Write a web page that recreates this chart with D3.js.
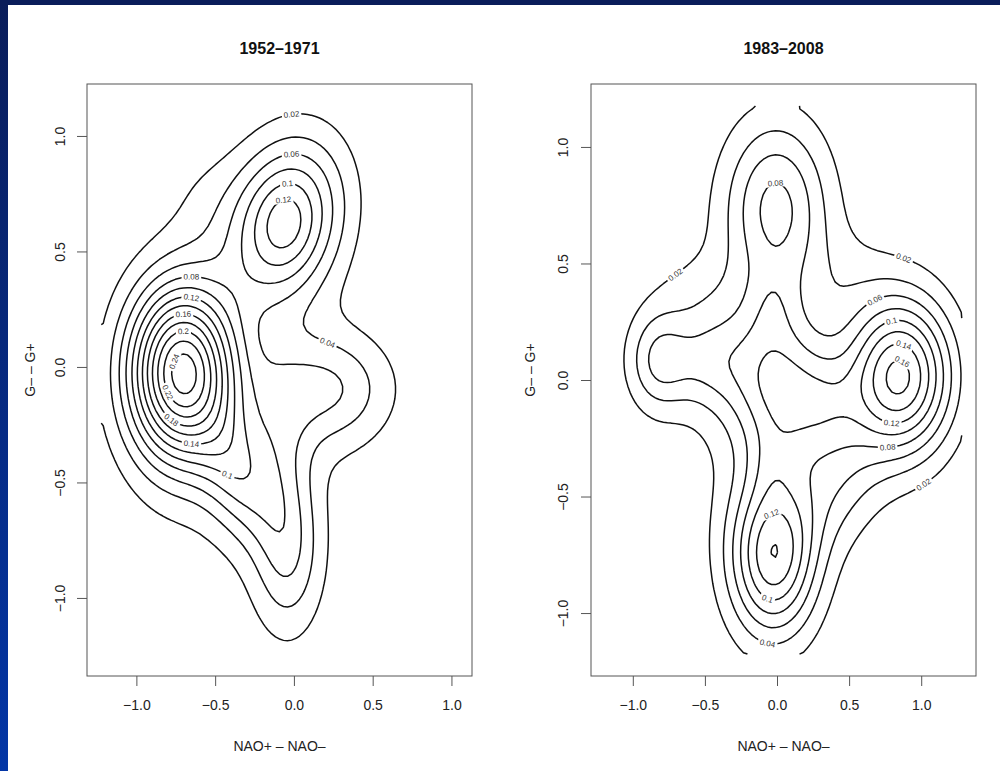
<!DOCTYPE html>
<html>
<head>
<meta charset="utf-8">
<script src="https://cdn.jsdelivr.net/npm/d3@7"></script>
<style>
  body { margin: 0; background: #fff; }
  text { font-family: "Liberation Sans", Arial, sans-serif; }
</style>
</head>
<body>
<svg id="chart" width="1000" height="771"></svg>
<script>
// ---- data ----
var titles = ["1952\u20131971", "1983\u20132008"];
var xTicks = [-1, -0.5, 0, 0.5, 1];
var yTicks = [-1, -0.5, 0, 0.5, 1];

// grid limits of each density estimate (x, y)
var leftGridX = [-1.223, 1.04], leftGridY = [-1.243, 1.13];
var rightGridX = [-1.191, 1.281], rightGridY = [-1.176, 1.176];

var leftLevels = [0.02, 0.04, 0.06, 0.08, 0.1, 0.12, 0.14, 0.16, 0.18, 0.2, 0.22, 0.24];
var rightLevels = [0.02, 0.04, 0.06, 0.08, 0.1, 0.12, 0.14, 0.16];

// density bumps: [cx, cy, sx, sy, rho, height]
var leftBumps = [
  [-0.72, -0.01, 0.235, 0.26, 0, 0.24],
  [-0.07, 0.64, 0.25, 0.245, 0.2, 0.12],
  [-0.07, 0.64, 0.1, 0.1, 0, 0.01],
  [-0.6, 0.75, 0.2, 0.18, 0, 0.012],
  [-0.36, -0.45, 0.17, 0.2, -0.3, 0.063],
  [-0.1, -0.35, 0.14, 0.25, 0, 0.03],
  [-0.05, -0.8, 0.15, 0.24, 0, 0.05],
  [0.2, -0.08, 0.28, 0.17, 0, 0.055],
  [-0.3, -0.3, 0.55, 0.6, 0, 0.015]
];
var rightBumps = [
  [0.84, 0.03, 0.25, 0.23, 0, 0.16],
  [0.02, -0.02, 0.3, 0.24, -0.25, 0.092],
  [0.35, -0.07, 0.15, 0.13, 0, 0.018],
  [-0.02, 0.76, 0.25, 0.26, 0, 0.08],
  [-0.04, 0.33, 0.12, 0.12, 0, 0.018],
  [-0.04, -0.74, 0.21, 0.24, 0, 0.13],
  [-0.06, -0.35, 0.12, 0.12, 0, 0.015],
  [0.4, -0.45, 0.22, 0.2, 0.3, 0.03],
  [-0.84, 0.1, 0.15, 0.15, 0, 0.055],
  [-0.52, 0.1, 0.18, 0.14, 0, 0.035],
  [-0.6, 0.4, 0.22, 0.12, 0, 0.012],
  [0.45, 0.45, 0.25, 0.15, 0, 0.012],
  [-0.05, 0.0, 0.6, 0.6, 0, 0.015]
];

// contour labels: [level, x, y]
var leftLabels = [
  [0.02, -0.02, 1.11], [0.06, -0.01, 0.94], [0.1, -0.03, 0.84], [0.12, -0.06, 0.75],
  [0.08, -0.66, 0.41], [0.12, -0.65, 0.31], [0.16, -0.69, 0.23], [0.2, -0.71, 0.17],
  [0.24, -0.74, 0.02], [0.22, -0.71, -0.085], [0.18, -0.73, -0.19], [0.14, -0.65, -0.27],
  [0.1, -0.40, -0.45], [0.04, 0.21, 0.11]
];
var rightLabels = [
  [0.02, -0.67, 0.44], [0.08, -0.03, 0.87], [0.02, 0.87, 0.49], [0.06, 0.66, 0.37],
  [0.1, 0.78, 0.26], [0.14, 0.86, 0.14], [0.16, 0.85, 0.06], [0.12, 0.81, -0.13],
  [0.08, 0.77, -0.24], [0.02, 0.97, -0.40], [0.12, -0.01, -0.60], [0.1, -0.07, -0.93],
  [0.04, -0.07, -1.11]
];

// ---- page ----
var svg = d3.select("#chart");

var grad = svg.append("defs").append("linearGradient")
  .attr("id", "frame").attr("x1", 0).attr("y1", 0).attr("x2", 0).attr("y2", 1);
grad.append("stop").attr("offset", "0%").attr("stop-color", "#0a1d5a");
grad.append("stop").attr("offset", "100%").attr("stop-color", "#0336a6");

svg.append("rect").attr("width", 1000).attr("height", 771).attr("fill", "#fff");
svg.append("rect").attr("x", 0).attr("y", 0).attr("width", 8).attr("height", 771).attr("fill", "url(#frame)");
svg.append("rect").attr("x", 0).attr("y", 0).attr("width", 1000).attr("height", 5).attr("fill", "#0a1d5a");

function density(bumps, x, y) {
  var s = 0;
  bumps.forEach(function(b) {
    var dx = (x - b[0]) / b[2], dy = (y - b[1]) / b[3], r = b[4];
    s += b[5] * Math.exp(-(dx * dx - 2 * r * dx * dy + dy * dy) / (2 * (1 - r * r)));
  });
  return s;
}

function panel(box, gx, gy, bumps, levels, labels, title, yTitleX, yLabelX) {
  var padX = (gx[1] - gx[0]) * 0.04, padY = (gy[1] - gy[0]) * 0.04;
  var x = d3.scaleLinear().domain([gx[0] - padX, gx[1] + padX]).range([box.x, box.x + box.w]);
  var y = d3.scaleLinear().domain([gy[0] - padY, gy[1] + padY]).range([box.y + box.h, box.y]);

  var n = 90;
  var stepX = (gx[1] - gx[0]) / (n - 1), stepY = (gy[1] - gy[0]) / (n - 1);
  var values = new Array(n * n);
  for (var j = 0; j < n; j++) {
    for (var i = 0; i < n; i++) {
      values[j * n + i] = density(bumps, gx[0] + i * stepX, gy[1] - j * stepY);
    }
  }
  var contours = d3.contours().size([n, n]).thresholds(levels)(values);

  var eps = 1e-6;
  function clampPt(p) {
    return [Math.max(0, Math.min(n - 1, p[0])), Math.max(0, Math.min(n - 1, p[1]))];
  }
  function sameEdge(a, b) {
    return (a[0] <= eps && b[0] <= eps) || (a[0] >= n - 1 - eps && b[0] >= n - 1 - eps) ||
           (a[1] <= eps && b[1] <= eps) || (a[1] >= n - 1 - eps && b[1] >= n - 1 - eps);
  }
  function toPx(p) {
    return [x(gx[0] + p[0] * stepX), y(gy[1] - p[1] * stepY)];
  }
  // split a ring where it runs along the grid edge, so lines stay open there
  function ringLines(ring) {
    var pts = ring.map(clampPt);
    var m = pts.length - 1;
    var cut = [];
    for (var k = 0; k < m; k++) cut.push(sameEdge(pts[k], pts[k + 1]));
    if (cut.indexOf(true) < 0) return [pts.map(toPx)];
    var start = cut.indexOf(true), out = [], cur = [];
    for (var k = 0; k < m; k++) {
      var i = (start + 1 + k) % m;
      if (cut[i]) { if (cur.length > 1) out.push(cur); cur = []; continue; }
      if (!cur.length) cur.push(toPx(pts[i]));
      cur.push(toPx(pts[i + 1]));
    }
    if (cur.length > 1) out.push(cur);
    return out;
  }

  var lines = [];
  contours.forEach(function(c) {
    c.coordinates.forEach(function(poly) {
      poly.forEach(function(ring) {
        ringLines(ring).forEach(function(l) { lines.push({ value: c.value, pts: l }); });
      });
    });
  });

  var g = svg.append("g");
  var clip = "clip" + box.x;
  g.append("clipPath").attr("id", clip).append("rect")
    .attr("x", box.x).attr("y", box.y).attr("width", box.w).attr("height", box.h);

  var line = d3.line();
  g.append("g").attr("clip-path", "url(#" + clip + ")")
    .selectAll("path").data(lines).enter().append("path")
    .attr("d", function(d) { return line(d.pts); })
    .attr("fill", "none")
    .attr("stroke", "#111")
    .attr("stroke-width", 1.5)
    .attr("stroke-linejoin", "round");

  // contour labels, put on the nearest point of their line
  var fmt = function(v) { return String(+v.toFixed(2)); };
  labels.forEach(function(lb) {
    var tx = x(lb[1]), ty = y(lb[2]);
    var best = null, bd = Infinity;
    lines.forEach(function(l) {
      if (Math.abs(l.value - lb[0]) > 1e-9) return;
      l.pts.forEach(function(p, k) {
        var d = (p[0] - tx) * (p[0] - tx) + (p[1] - ty) * (p[1] - ty);
        if (d < bd) { bd = d; best = { l: l.pts, k: k }; }
      });
    });
    if (!best) return;
    var p = best.l[best.k];
    var a = best.l[Math.max(0, best.k - 2)], b = best.l[Math.min(best.l.length - 1, best.k + 2)];
    var ang = Math.atan2(b[1] - a[1], b[0] - a[0]) * 180 / Math.PI;
    if (ang > 90) ang -= 180;
    if (ang < -90) ang += 180;
    var lg = g.append("g").attr("transform", "translate(" + p[0] + "," + p[1] + ") rotate(" + ang + ")");
    var rect = lg.append("rect").attr("fill", "#fff");
    var t = lg.append("text")
      .attr("text-anchor", "middle")
      .attr("dy", "0.35em")
      .attr("font-size", "8px")
      .attr("fill", "#333")
      .text(fmt(lb[0]));
    var w = t.node().getComputedTextLength() + 4;
    rect.attr("x", -w / 2).attr("y", -4).attr("width", w).attr("height", 8);
  });

  // box
  g.append("rect")
    .attr("x", box.x).attr("y", box.y).attr("width", box.w).attr("height", box.h)
    .attr("fill", "none").attr("stroke", "#555").attr("stroke-width", 1);

  // axes
  var xa = g.append("g").attr("transform", "translate(0," + (box.y + box.h) + ")")
    .call(d3.axisBottom(x).tickValues(xTicks).tickSize(10).tickFormat(d3.format(".1f")));
  xa.select(".domain").remove();
  xa.selectAll("line").attr("stroke", "#555");
  xa.selectAll("text").attr("y", 24).attr("font-size", "14px").attr("fill", "#222")
    .style("font-family", "'Liberation Sans', Arial, sans-serif");

  var ya = g.append("g").attr("transform", "translate(" + box.x + ",0)")
    .call(d3.axisLeft(y).tickValues(yTicks).tickSize(10).tickFormat(d3.format(".1f")));
  ya.select(".domain").remove();
  ya.selectAll("line").attr("stroke", "#555");
  ya.selectAll("text")
    .attr("x", 0).attr("dy", "0.35em")
    .attr("transform", "translate(" + (-yLabelX) + ",0) rotate(-90)")
    .attr("text-anchor", "middle").attr("font-size", "14px").attr("fill", "#222")
    .style("font-family", "'Liberation Sans', Arial, sans-serif");

  // titles
  g.append("text")
    .attr("x", box.x + box.w / 2).attr("y", 54)
    .attr("text-anchor", "middle").attr("font-size", "16px").attr("font-weight", "bold")
    .attr("fill", "#111").text(title);
  g.append("text")
    .attr("x", box.x + box.w / 2).attr("y", 751)
    .attr("text-anchor", "middle").attr("font-size", "14px").attr("fill", "#222")
    .text("NAO+ \u2013 NAO\u2013");
  g.append("text")
    .attr("transform", "translate(" + (box.x - yTitleX) + "," + (box.y + box.h / 2 - 10) + ") rotate(-90)")
    .attr("text-anchor", "middle").attr("dy", "0.35em").attr("font-size", "14px").attr("fill", "#222")
    .text("G\u2013 \u2013 G+");
}

panel({ x: 87, y: 84, w: 385, h: 592 }, leftGridX, leftGridY, leftBumps, leftLevels, leftLabels, titles[0], 57, 27);
panel({ x: 591, y: 84, w: 385, h: 592 }, rightGridX, rightGridY, rightBumps, rightLevels, rightLabels, titles[1], 61, 28);
</script>
</body>
</html>
